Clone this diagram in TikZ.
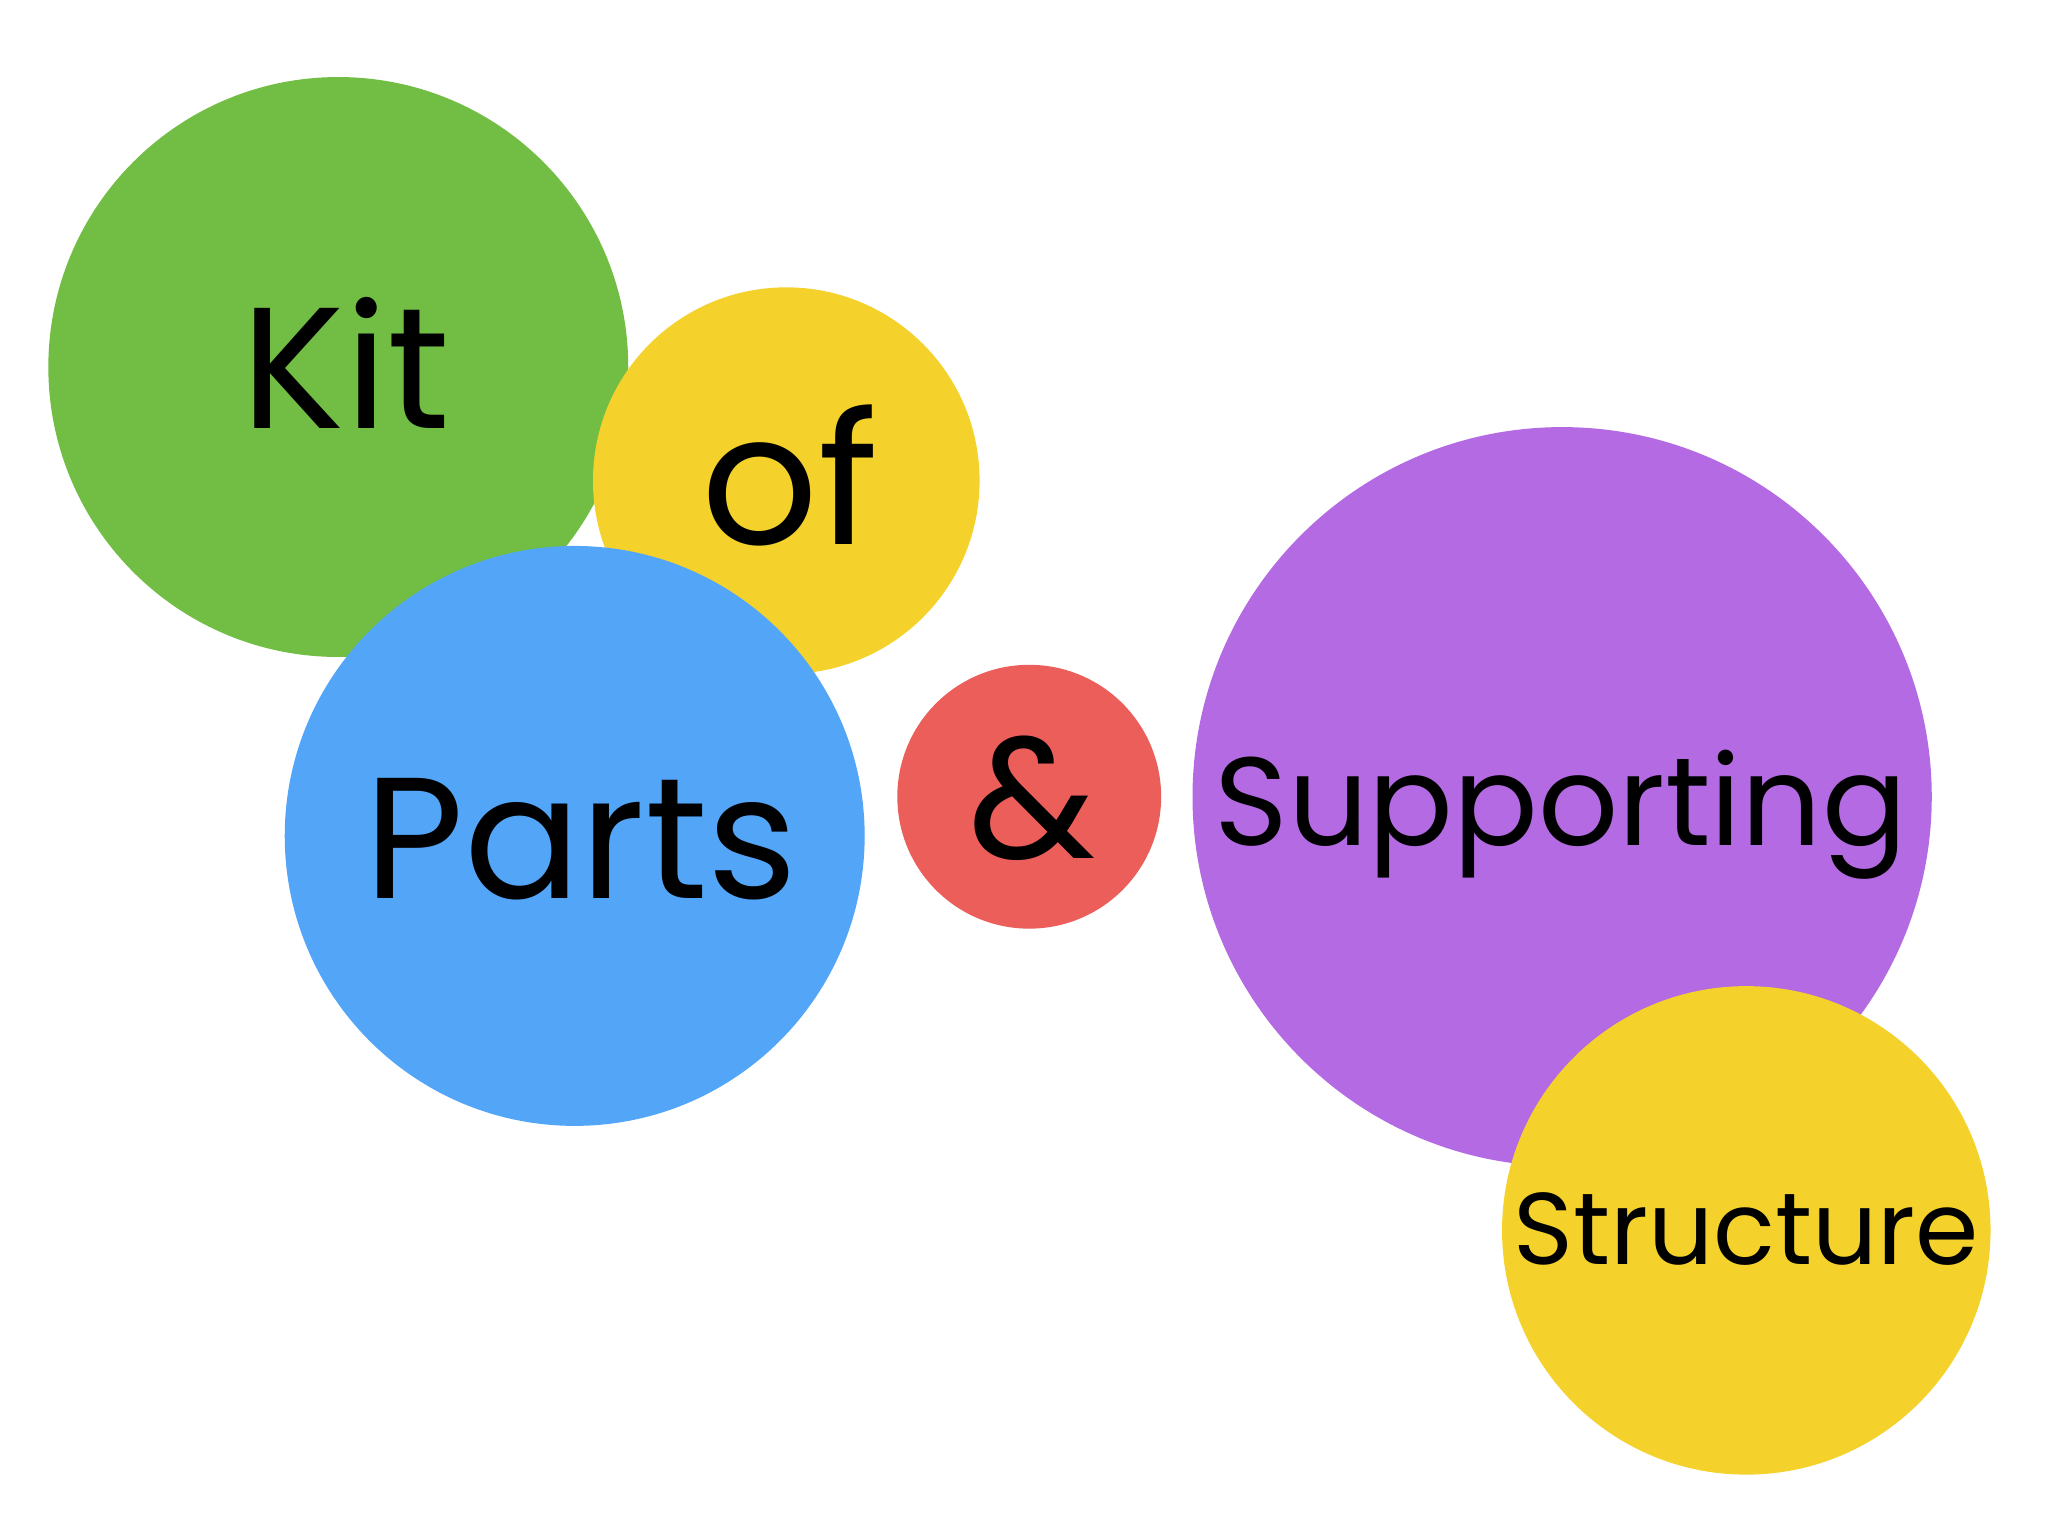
\documentclass[tikz,border=0pt]{standalone}
\usepackage{fontspec}
\setmainfont{Poppins}
\definecolor{cgreen}{HTML}{72BE44}
\definecolor{cyellow}{HTML}{F4D22B}
\definecolor{cblue}{HTML}{52A5F7}
\definecolor{cred}{HTML}{EB5E5A}
\definecolor{cpurple}{HTML}{B36AE2}
\begin{document}
\begin{tikzpicture}[x=0.5pt,y=-0.5pt,
  bub/.style={circle,inner sep=0pt,draw=none},
  word/.style={anchor=base,inner sep=0pt,text=black}]
\useasboundingbox[fill=white] (0,0) rectangle (1568,1176);
\node[bub,fill=cgreen,minimum size=444*0.5pt] (kitc) at (259,281) {};
\node[bub,fill=cyellow,minimum size=296*0.5pt] (ofc) at (602,368) {};
\node[bub,fill=cblue,minimum size=444*0.5pt] (partsc) at (440,640) {};
\node[bub,fill=cred,minimum size=202*0.5pt] (andc) at (788,610) {};
\node[bub,fill=cpurple,minimum size=566*0.5pt] (supc) at (1196,610) {};
\node[bub,fill=cyellow,minimum size=374*0.5pt] (strc) at (1337,942) {};
\node[word,font=\fontsize{66}{66}\selectfont] (kit) at (265,328) {Kit};
\node[word,font=\fontsize{70}{70}\selectfont] (of) at (605,417) {of};
\node[word,font=\fontsize{66}{66}\selectfont] (parts) at (445,688) {Parts};
\node[word,font=\fontsize{66}{66}\selectfont] (and) at (790,657) {\&};
\node[word,font=\fontsize{48}{48}\selectfont] (sup) at (1195,647) {Supporting};
\node[word,font=\fontsize{39}{39}\selectfont] (str) at (1337,968) {Structure};
\end{tikzpicture}
\end{document}
